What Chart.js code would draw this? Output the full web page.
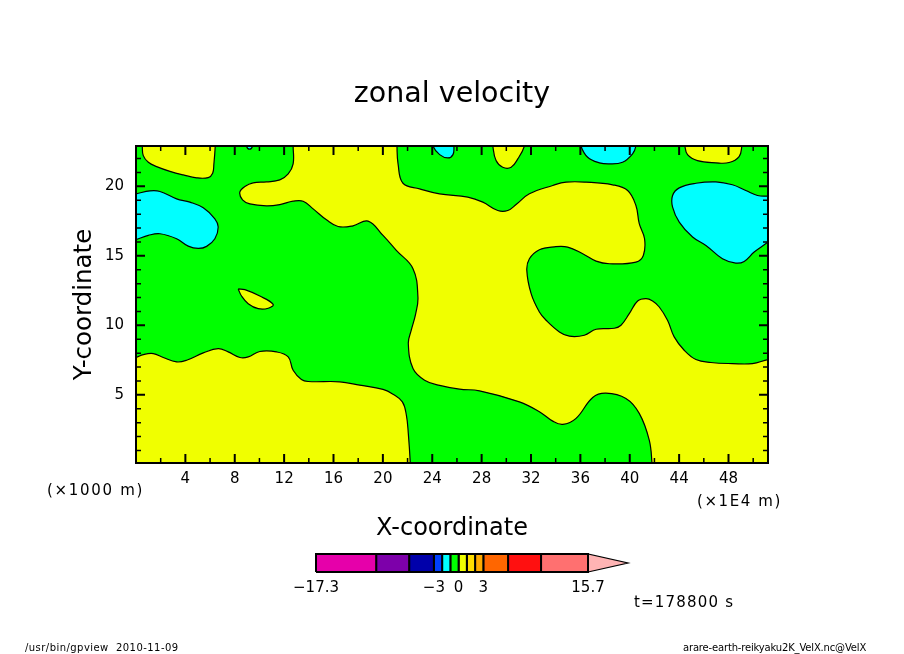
<!DOCTYPE html>
<html lang="en">
<head>
  <meta charset="UTF-8" />
  <title>zonal velocity</title>
  <script src="https://cdn.jsdelivr.net/npm/chart.js"></script>
  <style>
    html, body { margin: 0; padding: 0; background: #fff; }
    #wrap { position: relative; width: 904px; height: 654px; overflow: hidden; }
    #fieldChart { position: absolute; left: 0; top: 0; }
    #barChart { position: absolute; left: 270px; top: 545px; }
  </style>
</head>
<body>
  <div id="wrap">
    <canvas id="fieldChart" width="904" height="654"></canvas>
    <canvas id="barChart" width="400" height="55"></canvas>
  </div>

  <script>
    // axis ranges and ticks (x in 1E4 m, z in 1000 m)
    const xRange = [0, 51.2];
    const zRange = [0.1, 22.9];
    const xTicks = [4, 8, 12, 16, 20, 24, 28, 32, 36, 40, 44, 48];
    const xMinorTicks = [2, 6, 10, 14, 18, 22, 26, 30, 34, 38, 42, 46, 50];
    const zTicks = [5, 10, 15, 20];
    const zMinorTicks = [1, 2, 3, 4, 6, 7, 8, 9, 11, 12, 13, 14, 16, 17, 18, 19, 21, 22];

    // colour bar levels
    const levels = [-17.3, -10, -6, -3, -2, -1, 0, 1, 2, 3, 6, 10, 15.7];
    const levelColors = ['#e600aa', '#7d00aa', '#0000aa', '#0040ff', '#00ffff', '#00ff00',
      '#f0ff00', '#ffdd00', '#ffaa00', '#ff6600', '#ff1010', '#ff7070'];
    const overflowTip = [15.7, 20.55];
    const barTicks = [-17.3, -3, 0, 3, 15.7];

    // contour outlines, [x, z]; points beyond the frame get clipped
    const yellowTopLeft = [[0.51, 23.5], [0.51, 22.9], [0.59, 22.21], [1.0, 21.73], [1.67, 21.42], [2.75, 21.08],
      [3.83, 20.82], [4.91, 20.61], [5.85, 20.63], [6.21, 20.94], [6.31, 21.61], [6.42, 22.9], [6.42, 23.5]];
    const yellowIsland = [[8.28, 12.62], [8.82, 12.57], [10.03, 12.11], [11.11, 11.51], [10.71, 11.23],
      [9.9, 11.2], [9.09, 11.56], [8.55, 12.11], [8.28, 12.62]];
    const yellowTop30 = [[28.91, 23.5], [28.91, 22.9], [29.17, 21.85], [29.71, 21.37], [30.39, 21.37],
      [30.93, 21.97], [31.47, 22.9], [31.47, 23.5]];
    const yellowTop47 = [[44.47, 23.5], [44.47, 22.9], [44.68, 22.28], [45.49, 21.85], [46.98, 21.69],
      [48.05, 21.71], [48.86, 22.14], [49.08, 22.9], [49.08, 23.5]];
    const yellowLower = [[-1, 7.5], [0, 7.69], [0.59, 7.9], [1.4, 7.97], [2.21, 7.69], [3.29, 7.37], [4.1, 7.49],
      [5.45, 8.02], [6.66, 8.33], [7.47, 8.09], [8.42, 7.69], [9.09, 7.73], [10.03, 8.12], [11.38, 8.09],
      [12.33, 7.73], [12.73, 6.77], [13.4, 6.11], [13.94, 5.96], [16.51, 5.94], [18.12, 5.7], [20.01, 5.39],
      [20.82, 5.05], [21.58, 4.5], [21.9, 3.56], [22.06, 2.23], [22.22, 0.1], [22.25, -1], [-1, -1]];
    const yellowMain = [[12.73, 23.5], [12.73, 22.9], [12.73, 21.61], [12.33, 20.89], [11.65, 20.46], [10.57, 20.32],
      [9.49, 20.25], [8.82, 19.99], [8.41, 19.58], [8.63, 19.03], [9.22, 18.74], [10.57, 18.6], [11.65, 18.69],
      [12.73, 18.93], [13.54, 18.93], [14.35, 18.38], [15.43, 17.59], [16.37, 17.11], [17.58, 17.16], [18.8, 17.5],
      [20.01, 16.47], [21.09, 15.39], [22.44, 14.08], [22.84, 12.04], [22.66, 10.84], [22.3, 9.65], [22.06, 8.69],
      [22.44, 6.9], [23.38, 6.06], [24.6, 5.68], [26.21, 5.41], [27.83, 5.29], [31.06, 4.5], [32.68, 3.79],
      [33.76, 3.11], [34.57, 2.88], [35.65, 3.31], [37.0, 4.81], [38.07, 5.12], [39.69, 4.74], [40.77, 3.67],
      [41.58, 1.75], [41.8, 0.1], [41.85, -1], [52.5, -1], [52.5, 7.7], [51.2, 7.54], [49.94, 7.25], [48.32, 7.25],
      [46.57, 7.33], [45.36, 7.54], [44.41, 8.21], [43.6, 9.17], [43.06, 10.37], [42.39, 11.32], [41.85, 11.75],
      [41.31, 11.92], [40.64, 11.75], [39.96, 10.84], [39.29, 10.01], [38.75, 9.79], [37.27, 9.72], [36.32, 9.29],
      [35.11, 9.22], [34.3, 9.53], [33.22, 10.37], [32.68, 10.96], [32.01, 12.28], [31.66, 13.96], [31.87, 14.79],
      [32.68, 15.44], [33.89, 15.65], [34.97, 15.63], [36.19, 15.15], [37.27, 14.62], [38.35, 14.43], [40.5, 14.55],
      [41.1, 15.03], [41.2, 16.23], [40.77, 17.31], [40.5, 18.62], [39.83, 19.7], [38.61, 20.11], [36.46, 20.3],
      [34.84, 20.3], [33.76, 20.06], [31.87, 19.46], [30.79, 18.69], [30.12, 18.26], [29.31, 18.26], [28.1, 18.86],
      [26.88, 19.22], [24.59, 19.46], [22.98, 19.82], [21.63, 20.22], [21.23, 21.61], [21.14, 22.9], [21.14, 23.5]];
    const cyanLeft = [[-1, 19.3], [0, 19.46], [1.13, 19.67], [1.94, 19.63], [3.29, 19.1], [4.37, 18.86], [5.45, 18.45],
      [6.39, 17.66], [6.66, 17.07], [6.39, 16.23], [5.72, 15.68], [5.04, 15.53], [4.23, 15.7], [3.29, 16.23],
      [1.94, 16.59], [1.0, 16.47], [0, 16.16], [-1, 15.9]];
    const cyanTiny = [[8.95, 23.5], [8.95, 22.9], [9.2, 22.67], [9.44, 22.9], [9.44, 23.5]];
    const cyanTop25 = [[24.06, 23.5], [24.06, 22.9], [24.6, 22.28], [25.27, 22.04], [25.68, 22.28], [25.76, 22.9], [25.76, 23.5]];
    const cyanTop38 = [[36.05, 23.5], [36.05, 22.9], [36.59, 22.09], [37.54, 21.69], [38.35, 21.61], [39.42, 21.73],
      [40.23, 22.33], [40.5, 22.9], [40.5, 23.5]];
    const cyanRight = [[52.5, 19.25], [51.2, 19.29], [50.35, 19.34], [49.4, 19.7], [48.32, 20.11], [46.98, 20.32],
      [45.36, 20.22], [44.01, 19.89], [43.47, 19.34], [43.47, 18.5], [44.01, 17.43], [45.09, 16.35], [46.17, 15.75],
      [47.51, 14.79], [48.59, 14.48], [49.27, 14.6], [50.08, 15.27], [51.2, 15.99], [52.5, 17.0]];

    const fontName = '"DejaVu Sans", sans-serif';

    function toPoints(list) {
      return list.map(p => ({ x: p[0], y: p[1] }));
    }

    function region(list, color) {
      return {
        data: toPoints(list),
        showLine: true,
        fill: 'shape',
        backgroundColor: color,
        borderColor: '#000',
        borderWidth: 1.2,
        pointRadius: 0,
        tension: 0.4,
        capBezierPoints: false,
        order: 1
      };
    }

    // green background field
    const fieldBack = {
      data: toPoints([[xRange[0], zRange[0]], [xRange[1], zRange[0]], [xRange[1], zRange[1]], [xRange[0], zRange[1]]]),
      showLine: true,
      fill: 'shape',
      backgroundColor: '#00ff00',
      borderWidth: 0,
      pointRadius: 0,
      order: 2
    };

    const yellow = '#f0ff00';
    const cyan = '#00ffff';

    // frame and inward ticks on all four sides
    const framePlugin = {
      id: 'frame',
      afterDatasetsDraw(chart) {
        const { ctx, chartArea: a, scales } = chart;
        ctx.save();
        ctx.strokeStyle = '#000';

        function xMarks(values, len, width) {
          ctx.lineWidth = width;
          values.forEach(v => {
            const px = scales.x.getPixelForValue(v);
            ctx.beginPath();
            ctx.moveTo(px, a.bottom); ctx.lineTo(px, a.bottom - len);
            ctx.moveTo(px, a.top); ctx.lineTo(px, a.top + len);
            ctx.stroke();
          });
        }
        function zMarks(values, len, width) {
          ctx.lineWidth = width;
          values.forEach(v => {
            const py = scales.y.getPixelForValue(v);
            ctx.beginPath();
            ctx.moveTo(a.left, py); ctx.lineTo(a.left + len, py);
            ctx.moveTo(a.right, py); ctx.lineTo(a.right - len, py);
            ctx.stroke();
          });
        }
        xMarks(xTicks, 9, 2);
        xMarks(xMinorTicks, 5, 1.5);
        zMarks(zTicks, 9, 2);
        zMarks(zMinorTicks, 5, 1.5);

        ctx.lineWidth = 2;
        ctx.strokeRect(a.left, a.top, a.right - a.left, a.bottom - a.top);
        ctx.restore();
      }
    };

    // loose labels around the plot
    const notes = [
      { text: '(×1000 m)', x: 47, y: 491, size: 15, spacing: 1.7 },
      { text: '(×1E4 m)', x: 697, y: 502, size: 15, spacing: 1.6 },
      { text: 't=178800 s', x: 634, y: 603, size: 15, spacing: 1.2 },
      { text: '/usr/bin/gpview  2010-11-09', x: 25, y: 648, size: 10, spacing: 0.45 },
      { text: 'arare-earth-reikyaku2K_VelX.nc@VelX', x: 683, y: 648, size: 10, spacing: -0.17 }
    ];

    const notesPlugin = {
      id: 'notes',
      afterDraw(chart) {
        const ctx = chart.ctx;
        ctx.save();
        ctx.fillStyle = '#000';
        ctx.textAlign = 'left';
        ctx.textBaseline = 'middle';
        notes.forEach(n => {
          ctx.font = n.size + 'px ' + fontName;
          ctx.letterSpacing = n.spacing + 'px';
          ctx.fillText(n.text, n.x, n.y);
        });
        ctx.restore();
      }
    };

    new Chart(document.getElementById('fieldChart'), {
      type: 'scatter',
      data: {
        datasets: [
          fieldBack,
          region(yellowMain, yellow),
          region(yellowLower, yellow),
          region(yellowTopLeft, yellow),
          region(yellowIsland, yellow),
          region(yellowTop30, yellow),
          region(yellowTop47, yellow),
          region(cyanLeft, cyan),
          region(cyanTiny, cyan),
          region(cyanTop25, cyan),
          region(cyanTop38, cyan),
          region(cyanRight, cyan)
        ]
      },
      plugins: [framePlugin, notesPlugin],
      options: {
        responsive: false,
        animation: false,
        events: [],
        plugins: {
          legend: { display: false },
          tooltip: { enabled: false },
          title: {
            display: true,
            text: 'zonal velocity',
            color: '#000',
            font: { family: fontName, size: 28.5, weight: 'normal' },
            padding: { top: 77, bottom: 34.8 }
          }
        },
        scales: {
          x: {
            type: 'linear',
            min: xRange[0],
            max: xRange[1],
            afterFit(scale) { scale.height = 191; },
            afterBuildTicks(scale) { scale.ticks = xTicks.map(v => ({ value: v })); },
            grid: { drawOnChartArea: false, drawTicks: false },
            border: { display: false },
            ticks: {
              color: '#000',
              padding: 7,
              autoSkip: false,
              maxRotation: 0,
              font: { family: fontName, size: 15 }
            },
            title: {
              display: true,
              text: 'X-coordinate',
              color: '#000',
              font: { family: fontName, size: 24 },
              padding: { top: 0, bottom: 111 }
            }
          },
          y: {
            type: 'linear',
            min: zRange[0],
            max: zRange[1],
            afterFit(scale) { scale.width = 136; },
            afterBuildTicks(scale) { scale.ticks = zTicks.map(v => ({ value: v })); },
            grid: { drawOnChartArea: false, drawTicks: false },
            border: { display: false },
            ticks: {
              color: '#000',
              padding: 12,
              autoSkip: false,
              font: { family: fontName, size: 15 }
            },
            title: {
              display: true,
              text: 'Y-coordinate',
              color: '#000',
              font: { family: fontName, size: 24.5 },
              padding: { top: 70, bottom: 0 }
            }
          },
          // empty right margin, keeps the title centred on the page
          rightMargin: {
            type: 'linear',
            position: 'right',
            min: zRange[0],
            max: zRange[1],
            afterFit(scale) { scale.width = 136; },
            grid: { display: false, drawTicks: false },
            border: { display: false },
            ticks: { display: false }
          }
        }
      }
    });

    // colour bar: one closed box per level interval, plus the overflow tip
    const barSets = levelColors.map((color, i) => ({
      data: toPoints([[levels[i], 0], [levels[i + 1], 0], [levels[i + 1], 1], [levels[i], 1], [levels[i], 0]]),
      showLine: true,
      fill: 'shape',
      backgroundColor: color,
      borderColor: '#000',
      borderWidth: 2,
      pointRadius: 0,
      clip: false
    }));
    barSets.push({
      data: toPoints([[overflowTip[0], 0], [overflowTip[1], 0.5], [overflowTip[0], 1], [overflowTip[0], 0]]),
      showLine: true,
      fill: 'shape',
      backgroundColor: '#ffb4b4',
      borderColor: '#000',
      borderWidth: 1.2,
      pointRadius: 0,
      clip: false
    });

    new Chart(document.getElementById('barChart'), {
      type: 'scatter',
      data: { datasets: barSets },
      options: {
        responsive: false,
        animation: false,
        events: [],
        layout: { padding: { left: 46, right: 42, top: 9, bottom: 0 }, autoPadding: false },
        plugins: { legend: { display: false }, tooltip: { enabled: false } },
        scales: {
          x: {
            type: 'linear',
            min: levels[0],
            max: overflowTip[1],
            afterFit(scale) { scale.height = 28; },
            afterBuildTicks(scale) { scale.ticks = barTicks.map(v => ({ value: v })); },
            grid: { display: false, drawTicks: false },
            border: { display: false },
            ticks: {
              color: '#000',
              padding: 7,
              autoSkip: false,
              maxRotation: 0,
              font: { family: fontName, size: 15 },
              callback: v => (v < 0 ? '−' + Math.abs(v) : String(v))
            }
          },
          y: { type: 'linear', min: 0, max: 1, display: false }
        }
      }
    });
  </script>
</body>
</html>
